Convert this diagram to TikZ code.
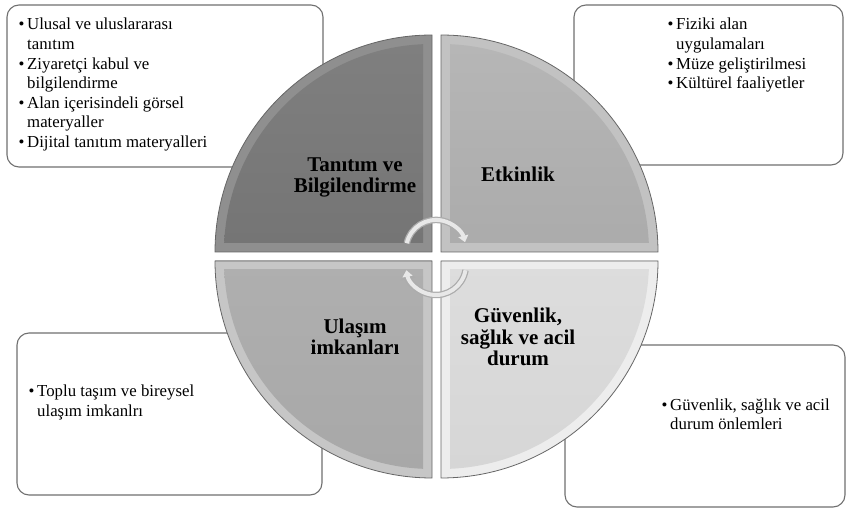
\documentclass[tikz,border=0pt]{standalone}
\usepackage{fontspec}
\setmainfont{Liberation Serif}
\usetikzlibrary{arrows.meta}

\definecolor{boxline}{HTML}{707070}
\definecolor{rimline}{HTML}{666666}
\definecolor{q1rim}{HTML}{8F8F8F}
\definecolor{q1top}{HTML}{7F7F7F}
\definecolor{q1bot}{HTML}{6A6A6A}
\definecolor{q2rim}{HTML}{C2C2C2}
\definecolor{q2top}{HTML}{B6B6B6}
\definecolor{q2bot}{HTML}{A0A0A0}
\definecolor{q3rim}{HTML}{C6C6C6}
\definecolor{q3top}{HTML}{B6B6B6}
\definecolor{q3bot}{HTML}{A8A8A8}
\definecolor{q4rim}{HTML}{EDEDED}
\definecolor{q4top}{HTML}{E4E4E4}
\definecolor{q4bot}{HTML}{D6D6D6}

\begin{document}
\begin{tikzpicture}[x=1pt,y=-1pt]

\def\rq{217}
\def\bul{\llap{\textbullet\,}}
\tikzstyle{box} = [
	draw=boxline, fill=white, rectangle, rounded corners=12pt,
	line width=1.1pt, inner sep=0pt, outer sep=0pt ];
% base anchor of a multi-line node = baseline of its last line
\tikzstyle{list} = [align=left, anchor=base west, inner sep=0pt,
	font=\fontsize{16.8}{19.6}\selectfont];
\tikzstyle{qtext} = [align=center, anchor=base, inner sep=0pt,
	font=\bfseries\fontsize{21}{21.7}\selectfont];
\tikzstyle{cycout} = [draw=gray!65, line width=6.5pt,
	-{Triangle[length=9pt,width=14pt]}];
\tikzstyle{cycin} = [draw=gray!18, line width=4pt,
	-{Triangle[length=6.5pt,width=10pt]}];
\useasboundingbox (0,0) rectangle (846,510);

% boxes behind the circle
\node[box, minimum width=316pt, minimum height=162pt] (b1) at (165,86) {};
\node[box, minimum width=269pt, minimum height=160pt] (b2) at (708.5,85) {};
\node[box, minimum width=305pt, minimum height=162pt] (b3) at (169.5,414) {};
\node[box, minimum width=280pt, minimum height=162pt] (b4) at (705,426) {};

\node[list] (t1) at (27,147.6) {\bul Ulusal ve uluslararası\\tanıtım\\
	\bul Ziyaretçi kabul ve\\bilgilendirme\\
	\bul Alan içerisindeli görsel\\materyaller\\
	\bul Dijital tanıtım materyalleri};
\node[list] (t2) at (676,88.8) {\bul Fiziki alan\\uygulamaları\\
	\bul Müze geliştirilmesi\\\bul Kültürel faaliyetler};
\node[list] (t3) at (37,416.6) {\bul Toplu taşım ve bireysel\\ulaşım imkanlrı};
\node[list] (t4) at (670,429.6) {\bul Güvenlik, sağlık ve acil\\durum önlemleri};

% top left quarter
\begin{scope}
\clip (0,0) rectangle (432,252);
\fill[q1rim] (432,252) circle[radius=\rq];
\clip (0,0) rectangle (423,243);
\shade[top color=q1top, bottom color=q1bot] (432,252) circle[radius=208];
\end{scope}
\draw[rimline, line width=.8pt] (432,252) -- (215,252)
	arc[start angle=180, end angle=270, radius=\rq] -- cycle;

% top right quarter
\begin{scope}
\clip (441,0) rectangle (846,252);
\fill[q2rim] (441,252) circle[radius=\rq];
\clip (450,0) rectangle (846,243);
\shade[top color=q2top, bottom color=q2bot] (441,252) circle[radius=208];
\end{scope}
\draw[rimline, line width=.8pt] (441,252) -- (441,35)
	arc[start angle=270, end angle=360, radius=\rq] -- cycle;

% bottom left quarter
\begin{scope}
\clip (0,261) rectangle (432,510);
\fill[q3rim] (432,261) circle[radius=\rq];
\clip (0,270) rectangle (423,510);
\shade[top color=q3top, bottom color=q3bot] (432,261) circle[radius=208];
\end{scope}
\draw[rimline, line width=.8pt] (432,261) -- (432,478)
	arc[start angle=90, end angle=180, radius=\rq] -- cycle;

% bottom right quarter
\begin{scope}
\clip (441,261) rectangle (846,510);
\fill[q4rim] (441,261) circle[radius=\rq];
\clip (450,270) rectangle (846,510);
\shade[top color=q4top, bottom color=q4bot] (441,261) circle[radius=208];
\end{scope}
\draw[rimline, line width=.8pt] (441,261) -- (658,261)
	arc[start angle=0, end angle=90, radius=\rq] -- cycle;

\node[qtext] (q1) at (355,193) {Tanıtım ve\\Bilgilendirme};
\node[qtext] (q2) at (518,182) {Etkinlik};
\node[qtext] (q3) at (355,355) {Ulaşım\\imkanları};
\node[qtext] (q4) at (518,366) {Güvenlik,\\sağlık ve acil\\durum};

% turning arrows
\coordinate (s1) at (406.8,243.2);
\coordinate (s2) at (465.5,270.2);
\draw[cycout] (s1) arc[start angle=193, end angle=345, radius=30];
\draw[cycin] (s1) arc[start angle=193, end angle=345, radius=30];
\draw[cycout] (s2) arc[start angle=10, end angle=170, radius=30];
\draw[cycin] (s2) arc[start angle=10, end angle=170, radius=30];

\end{tikzpicture}
\end{document}
